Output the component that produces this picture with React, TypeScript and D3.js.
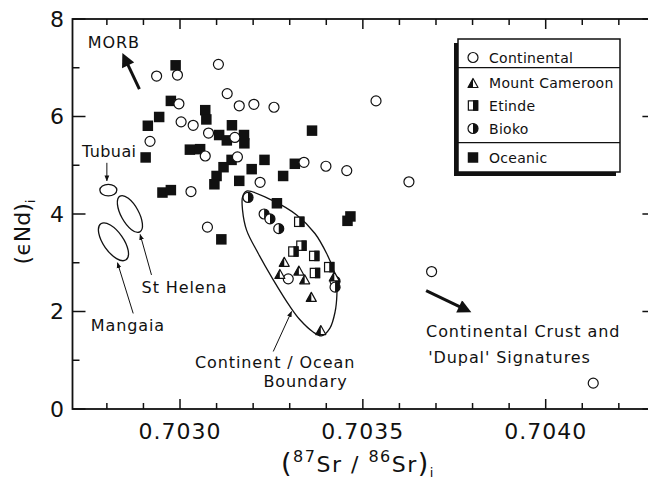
import React from "react";
import * as d3 from "d3";

const continental: [number, number][] = [
  [0.702936, 6.83], [0.702993, 6.85], [0.703105, 7.07], [0.703129, 6.47],
  [0.702997, 6.26], [0.703003, 5.89], [0.703036, 5.82], [0.703078, 5.66],
  [0.702918, 5.49], [0.70315, 5.57], [0.703162, 6.22], [0.703202, 6.25],
  [0.703257, 6.19], [0.703069, 5.19], [0.703157, 5.17], [0.703219, 4.65],
  [0.70303, 4.46], [0.703075, 3.73], [0.703339, 5.06], [0.703399, 4.98],
  [0.703456, 4.89], [0.703536, 6.32], [0.703626, 4.66], [0.703688, 2.82],
  [0.70413, 0.53], [0.703296, 2.67],
];
const oceanic: [number, number][] = [
  [0.702988, 7.05], [0.702975, 6.32], [0.702943, 5.99], [0.702912, 5.81],
  [0.703069, 6.13], [0.703072, 5.94], [0.703142, 5.82], [0.703107, 5.62],
  [0.703128, 5.51], [0.703175, 5.62], [0.703176, 5.45], [0.703027, 5.32],
  [0.703055, 5.33], [0.703361, 5.71], [0.702906, 5.16], [0.703231, 5.11],
  [0.703314, 5.03], [0.703141, 5.11], [0.703119, 4.96], [0.7031, 4.78],
  [0.703094, 4.61], [0.703196, 4.92], [0.703282, 4.78], [0.703162, 4.68],
  [0.702952, 4.44], [0.702975, 4.49], [0.703265, 4.22], [0.703113, 3.48],
  [0.703458, 3.86], [0.703466, 3.95],
];
const mountCameroon: [number, number][] = [
  [0.703285, 3.02], [0.703273, 2.77], [0.703325, 2.84], [0.703341, 2.66],
  [0.703359, 2.3], [0.703385, 1.62], [0.703422, 2.72],
];
const etinde: [number, number][] = [
  [0.703326, 3.84], [0.703332, 3.35], [0.70331, 3.23], [0.703367, 3.14],
  [0.703369, 2.79], [0.703408, 2.91],
];
const bioko: [number, number][] = [
  [0.703186, 4.34], [0.70323, 4.0], [0.703246, 3.9], [0.70327, 3.7],
  [0.703424, 2.62], [0.703424, 2.5],
];
// continent / ocean boundary envelope
const boundary: [number, number][] = [
  [0.703182, 4.47], [0.703255, 4.27], [0.703319, 3.98], [0.703369, 3.6],
  [0.703401, 3.19], [0.703418, 2.89], [0.703428, 2.61], [0.703429, 2.34],
  [0.703424, 1.99], [0.70341, 1.66], [0.703387, 1.5], [0.703364, 1.58],
  [0.703328, 1.83], [0.703301, 2.1], [0.703255, 2.65], [0.703214, 3.19],
  [0.703182, 3.67], [0.703171, 4.08], [0.703171, 4.35],
];
const xMajor = [0.703, 0.7035, 0.704];
const xTickLabels = ["0.7030", "0.7035", "0.7040"];
const yMajor = [0, 2, 4, 6, 8];

const W = 648, H = 482;
const FONT = "DejaVu Sans, sans-serif";

const x = d3.scaleLinear().domain([0.702706, 0.7043]).range([72.5, 655.4]);
const y = d3.scaleLinear().domain([0, 8]).range([409, 19]);

const Circle = ({ p, half }: { p: [number, number]; half?: boolean }) => {
  const cx = x(p[0]), cy = y(p[1]), r = 5;
  return (
    <g>
      <circle cx={cx} cy={cy} r={r} fill="white" stroke="#111" strokeWidth={1.2} />
      {half && (
        <path d={`M${cx},${cy - r} A${r},${r} 0 0 1 ${cx},${cy + r} Z`} fill="#111" />
      )}
    </g>
  );
};

const Square = ({ p, half }: { p: [number, number]; half?: boolean }) => {
  const cx = x(p[0]), cy = y(p[1]), s = 10.5;
  if (!half) return <rect x={cx - s / 2} y={cy - s / 2} width={s} height={s} fill="#111" />;
  return (
    <g>
      <rect x={cx - s / 2 + 0.6} y={cy - s / 2 + 0.6} width={s - 1.2} height={s - 1.2} fill="white" stroke="#111" strokeWidth={1.2} />
      <rect x={cx} y={cy - s / 2} width={s / 2} height={s} fill="#111" />
    </g>
  );
};

const Triangle = ({ p }: { p: [number, number] }) => {
  const cx = x(p[0]), cy = y(p[1]), h = 9, w = 10;
  return (
    <g>
      <path d={`M${cx},${cy - h / 2} L${cx + w / 2},${cy + h / 2} L${cx - w / 2},${cy + h / 2} Z`} fill="white" stroke="#111" strokeWidth={1.2} strokeLinejoin="round" />
      <path d={`M${cx},${cy - h / 2} L${cx},${cy + h / 2} L${cx - w / 2},${cy + h / 2} Z`} fill="#111" />
    </g>
  );
};

const Arrow = ({ from, to, thick }: { from: [number, number]; to: [number, number]; thick?: boolean }) => (
  <line
    x1={x(from[0])} y1={y(from[1])} x2={x(to[0])} y2={y(to[1])}
    stroke="#111" strokeWidth={thick ? 3 : 1}
    markerEnd={thick ? "url(#headBig)" : "url(#headSmall)"}
  />
);

const App = () => {
  const xMinor = d3.range(0.7028, 0.70425, 0.0001);
  const yMinor = [1, 3, 5, 7];
  const envelope = d3.line().x((d) => x(d[0])).y((d) => y(d[1])).curve(d3.curveCatmullRomClosed)(boundary) || "";
  const left = x.range()[0], right = x.range()[1];
  const top = y.range()[1], bottom = y.range()[0];
  const lx = 458, ly = 39, lw = 162, lh = 133;

  return (
    <svg width={W} height={H} style={{ position: "absolute", left: 0, top: 0, background: "white" }} fontFamily={FONT}>
      <defs>
        <marker id="headBig" viewBox="0 0 10 10" refX="2" refY="5" markerWidth="5" markerHeight="4.5" markerUnits="strokeWidth" orient="auto">
          <path d="M0,0 L10,5 L0,10 Z" fill="#111" />
        </marker>
        <marker id="headSmall" viewBox="0 0 10 10" refX="9" refY="5" markerWidth="6" markerHeight="6" markerUnits="strokeWidth" orient="auto">
          <path d="M0,1 L10,5 L0,9 Z" fill="#111" />
        </marker>
      </defs>
      <rect width={W} height={H} fill="white" />

      {/* frame */}
      <rect x={left} y={top} width={right - left} height={bottom - top} fill="none" stroke="#111" strokeWidth={1.8} />
      {xMinor.map((v, i) => {
        const major = xMajor.some((m) => Math.abs(m - v) < 1e-6);
        const len = major ? 10 : 6;
        return (
          <g key={"xt" + i}>
            <line x1={x(v)} x2={x(v)} y1={bottom} y2={bottom - len} stroke="#111" strokeWidth={1.5} />
            <line x1={x(v)} x2={x(v)} y1={top} y2={top + len} stroke="#111" strokeWidth={1.5} />
          </g>
        );
      })}
      {[...yMajor, ...yMinor].map((v) => {
        const len = v % 2 === 0 ? 13 : 7;
        return (
          <g key={"yt" + v}>
            <line x1={left} x2={left + len} y1={y(v)} y2={y(v)} stroke="#111" strokeWidth={1.5} />
            <line x1={right} x2={right - len} y1={y(v)} y2={y(v)} stroke="#111" strokeWidth={1.5} />
          </g>
        );
      })}
      {yMajor.map((v) => (
        <text key={"yl" + v} x={64} y={y(v)} dy="0.36em" textAnchor="end" fontSize={22} fill="#111">{v}</text>
      ))}
      {xMajor.map((v, i) => (
        <text key={"xl" + i} x={x(v)} y={439} textAnchor="middle" fontSize={22} letterSpacing={1} fill="#111">{xTickLabels[i]}</text>
      ))}

      {/* axis titles */}
      <text x={358} y={472} textAnchor="middle" fill="#111" fontSize={22} letterSpacing={1.5}>
        <tspan fontSize={27}>(</tspan>
        <tspan fontSize={16} dy={-10}>87</tspan>
        <tspan dy={10}>Sr</tspan>
        <tspan> / </tspan>
        <tspan fontSize={16} dy={-10}>86</tspan>
        <tspan dy={10}>Sr</tspan>
        <tspan fontSize={27}>)</tspan>
        <tspan fontSize={13} dy={5}>i</tspan>
      </text>
      <text transform="translate(30,232) rotate(-90)" textAnchor="middle" fill="#111" fontSize={22}>
        <tspan>(</tspan>
        <tspan>ϵNd</tspan>
        <tspan>)</tspan>
        <tspan fontSize={13} dy={5}>i</tspan>
      </text>

      {/* envelope and fields */}
      <path d={envelope} fill="none" stroke="#111" strokeWidth={1.3} />
      <ellipse cx={x(0.702804)} cy={y(4.49)} rx={8.5} ry={5.8} fill="none" stroke="#111" strokeWidth={1.3} />
      <ellipse transform={`translate(${x(0.702863)},${y(4.0)}) rotate(-29)`} rx={8.8} ry={20.5} fill="none" stroke="#111" strokeWidth={1.3} />
      <ellipse transform={`translate(${x(0.702818)},${y(3.43)}) rotate(-35)`} rx={10} ry={22} fill="none" stroke="#111" strokeWidth={1.3} />

      {/* data */}
      {oceanic.map((p, i) => <Square key={"o" + i} p={p} />)}
      {continental.map((p, i) => <Circle key={"c" + i} p={p} />)}
      {etinde.map((p, i) => <Square key={"e" + i} p={p} half />)}
      {bioko.map((p, i) => <Circle key={"b" + i} p={p} half />)}
      {mountCameroon.map((p, i) => <Triangle key={"m" + i} p={p} />)}

      {/* annotations */}
      <g fill="#111" fontSize={16} letterSpacing={0.9}>
        <text x={x(0.702748)} y={y(7.41)}>MORB</text>
        <text x={x(0.702732)} y={y(5.17)} letterSpacing={0.4}>Tubuai</text>
        <text x={x(0.702895)} y={y(2.37)}>St  Helena</text>
        <text x={x(0.702756)} y={y(1.61)}>Mangaia</text>
        <text x={x(0.703041)} y={y(0.835)}>Continent / Ocean</text>
        <text x={x(0.703228)} y={y(0.457)}>Boundary</text>
        <text x={x(0.703673)} y={y(1.47)}>Continental  Crust  and</text>
        <text x={x(0.703679)} y={y(0.95)}>'Dupal'  Signatures</text>
      </g>
      <Arrow from={[0.702889, 6.56]} to={[0.702855, 7.1]} thick />
      <Arrow from={[0.7028, 5.05]} to={[0.7028, 4.68]} />
      <Arrow from={[0.702922, 2.75]} to={[0.702891, 3.58]} />
      <Arrow from={[0.702872, 1.96]} to={[0.702829, 3.0]} />
      <Arrow from={[0.703255, 1.18]} to={[0.703305, 2.0]} />
      <Arrow from={[0.703673, 2.43]} to={[0.70377, 2.08]} thick />

      {/* legend */}
      <rect x={lx - 4} y={ly + 4} width={lw} height={lh} fill="#111" />
      <rect x={lx} y={ly} width={lw} height={lh} fill="white" stroke="#111" strokeWidth={1.5} />
      <line x1={lx} x2={lx + lw} y1={67.7} y2={67.7} stroke="#111" strokeWidth={1.2} />
      <line x1={lx} x2={lx + lw} y1={142.7} y2={142.7} stroke="#111" strokeWidth={1.2} />
      <g fill="#111" fontSize={14} letterSpacing={0.3}>
        <text x={489} y={63}>Continental</text>
        <text x={489} y={88}>Mount  Cameroon</text>
        <text x={489} y={111}>Etinde</text>
        <text x={489} y={134}>Bioko</text>
        <text x={489} y={163}>Oceanic</text>
      </g>
      <Circle p={[x.invert(473), y.invert(57.5)]} />
      <Triangle p={[x.invert(473), y.invert(83)]} />
      <Square p={[x.invert(473), y.invert(105.5)]} half />
      <Circle p={[x.invert(473), y.invert(128.5)]} half />
      <Square p={[x.invert(473), y.invert(157.5)]} />
    </svg>
  );
};

export default App;
